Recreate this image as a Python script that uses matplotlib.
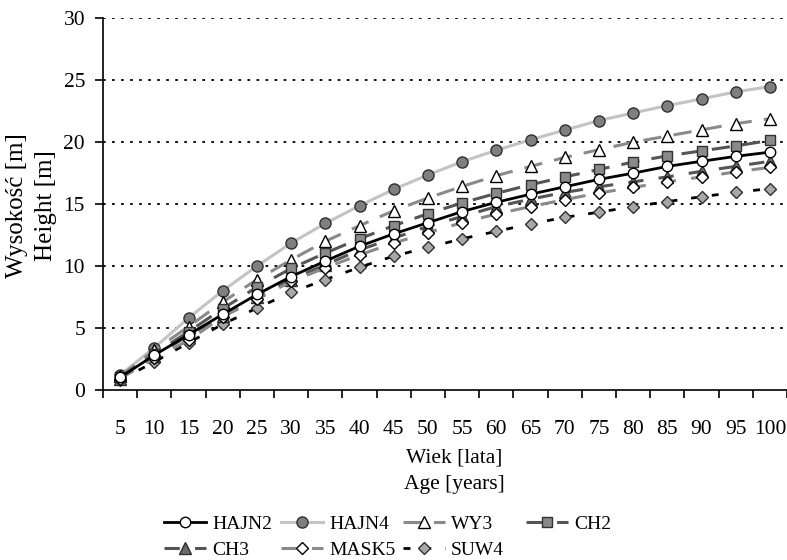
import matplotlib
matplotlib.use("Agg")
import matplotlib.pyplot as plt

plt.rcParams['font.family'] = ['Liberation Serif', 'DejaVu Serif']

ages = [5, 10, 15, 20, 25, 30, 35, 40, 45, 50, 55, 60, 65, 70, 75, 80, 85, 90, 95, 100]
HAJN2 = [1.0, 2.8, 4.45, 6.1, 7.7, 9.15, 10.4, 11.6, 12.6, 13.5, 14.4, 15.15, 15.8, 16.4, 17.0, 17.5, 18.05, 18.46, 18.86, 19.2]
HAJN4 = [1.2, 3.4, 5.8, 8.0, 10.0, 11.85, 13.45, 14.87, 16.2, 17.36, 18.43, 19.35, 20.2, 20.98, 21.75, 22.37, 22.96, 23.5, 24.07, 24.5]
WY3 = [1.1, 3.2, 5.1, 7.1, 8.9, 10.5, 12.0, 13.26, 14.47, 15.5, 16.43, 17.3, 18.05, 18.77, 19.4, 20.0, 20.5, 21.0, 21.5, 21.9]
CH2 = [1.0, 2.9, 4.7, 6.55, 8.3, 9.8, 11.05, 12.2, 13.26, 14.23, 15.1, 15.87, 16.57, 17.2, 17.8, 18.4, 18.9, 19.3, 19.7, 20.15]
CH3 = [0.9, 2.7, 4.4, 6.0, 7.5, 8.9, 10.1, 11.3, 12.25, 13.2, 14.0, 14.8, 15.4, 15.95, 16.4, 16.8, 17.2, 17.65, 18.05, 18.46]
MASK5 = [0.9, 2.55, 4.0, 5.9, 7.3, 8.75, 9.85, 10.9, 11.85, 12.7, 13.5, 14.2, 14.8, 15.36, 15.9, 16.35, 16.8, 17.2, 17.6, 17.97]
SUW4 = [0.8, 2.25, 3.8, 5.3, 6.6, 7.87, 8.9, 9.9, 10.8, 11.5, 12.2, 12.8, 13.4, 13.93, 14.35, 14.8, 15.2, 15.6, 15.95, 16.25]

fig = plt.figure(figsize=(7.87, 5.6), dpi=100)
ax = fig.add_axes([0.131, 0.304, 0.869, 0.663])

x = list(range(len(ages)))
FS = 15.5

styles = {
    'HAJN2': dict(color='black', lw=2.0, ls='-', marker='o', mfc='white', mec='black', ms=7.5),
    'HAJN4': dict(color='#c4c4c4', lw=2.2, ls='-', marker='o', mfc='#7f7f7f', mec='#303030', ms=8),
    'WY3': dict(color='#8a8a8a', lw=2.2, ls=(0, (6, 4)), marker='^', mfc='white', mec='black', ms=8),
    'CH2': dict(color='#555555', lw=2.2, ls=(0, (6, 4)), marker='s', mfc='#8a8a8a', mec='#303030', ms=7),
    'CH3': dict(color='#555555', lw=2.2, ls=(0, (5, 5)), marker='^', mfc='#6a6a6a', mec='#303030', ms=8),
    'MASK5': dict(color='#8a8a8a', lw=2.2, ls=(0, (5, 5)), marker='D', mfc='white', mec='black', ms=6),
    'SUW4': dict(color='black', lw=2.0, ls=(0, (2.5, 5)), marker='D', mfc='#a8a8a8', mec='#303030', ms=6),
}
data = {'HAJN2': HAJN2, 'HAJN4': HAJN4, 'WY3': WY3, 'CH2': CH2,
        'CH3': CH3, 'MASK5': MASK5, 'SUW4': SUW4}

handles = {}
draw_order = ['SUW4', 'MASK5', 'CH3', 'CH2', 'WY3', 'HAJN4', 'HAJN2']
zs = {'HAJN2': 9, 'HAJN4': 3, 'WY3': 4, 'CH2': 5, 'CH3': 6, 'MASK5': 7, 'SUW4': 2}
for name in draw_order:
    st = styles[name]
    h, = ax.plot(x, data[name], label=name, zorder=zs[name], markeredgewidth=1.0, **st)
    handles[name] = h

ax.set_xlim(-0.5, len(ages) - 0.5)
ax.set_ylim(0, 30)
ax.set_yticks([0, 5, 10, 15, 20, 25, 30])
ax.set_xticks([i - 0.5 for i in range(len(ages) + 1)], minor=False)
ax.set_xticklabels([])
ax.set_xticks(x, minor=True)
ax.set_xticklabels([str(a) for a in ages], minor=True)
ax.tick_params(axis='x', which='minor', length=0, pad=22, labelsize=FS)
ax.tick_params(axis='x', which='major', length=6, direction='out', width=1.2)
ax.tick_params(axis='y', length=6, direction='out', width=1.2, labelsize=FS, pad=7)

for y in [5, 10, 15, 20, 25, 30]:
    ax.axhline(y, color='black', lw=1.3, ls=(0, (1.5, 3.5)), zorder=1)

for s in ['top', 'right']:
    ax.spines[s].set_visible(False)
ax.spines['left'].set_linewidth(1.2)
ax.spines['bottom'].set_linewidth(1.2)

fig.text(454 / 787, 1 - 458 / 560, 'Wiek [lata]', ha='center', va='center', fontsize=FS)
fig.text(454 / 787, 1 - 484 / 560, 'Age [years]', ha='center', va='center', fontsize=FS)
fig.text(17 / 787, 1 - 206 / 560, 'Wysokość [m]', rotation=90, ha='center', va='center', fontsize=18)
fig.text(46 / 787, 1 - 206 / 560, 'Height [m]', rotation=90, ha='center', va='center', fontsize=18)

columns = [['HAJN2', 'CH3'], ['HAJN4', 'MASK5'], ['WY3', 'SUW4'], ['CH2']]
col_x = [150, 267, 389, 512]
for names, cx in zip(columns, col_x):
    leg = fig.legend([handles[n] for n in names], names, loc='upper left',
                     bbox_to_anchor=(cx / 787, 1 - 502 / 560), ncol=1, frameon=False,
                     fontsize=14, handlelength=2.2, handletextpad=0.3,
                     labelspacing=0.42, borderpad=0.2)

fig.savefig('out.png', dpi=100)
